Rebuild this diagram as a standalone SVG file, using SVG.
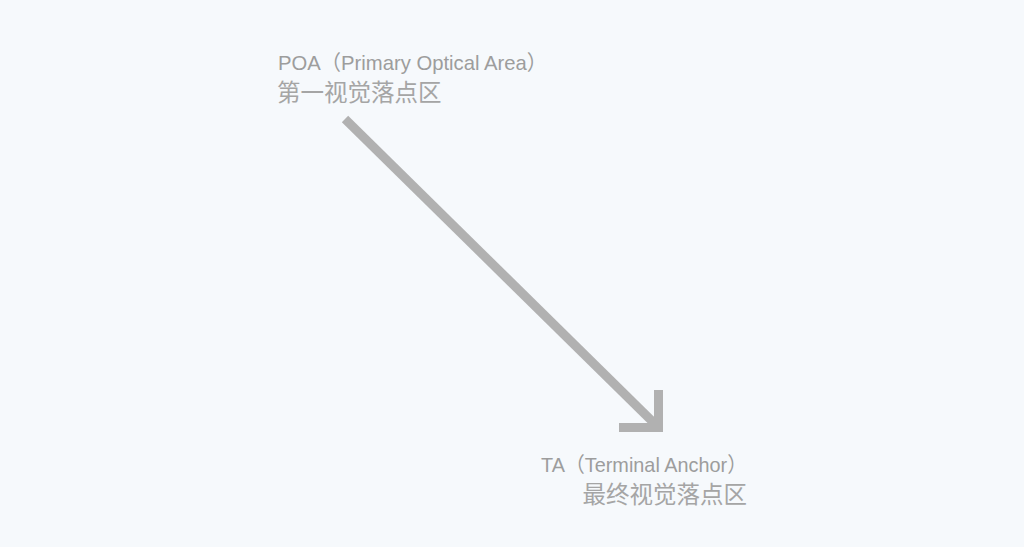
<svg xmlns="http://www.w3.org/2000/svg" width="1024" height="547" viewBox="0 0 1024 547">
<style>
.en{font-family:"Liberation Sans","Noto Sans CJK SC",sans-serif;font-size:21px;fill:#9d9d9d}
.zh{font-family:"Noto Sans CJK SC",sans-serif;font-size:23.5px;fill:#a5a5a5}
.arr{stroke:#b1b1b1;stroke-width:9;fill:none}
</style>
<rect width="1024" height="547" fill="#f6f9fc"/>
<g id="poa">
<text class="en" x="278" y="70" textLength="269" lengthAdjust="spacingAndGlyphs">POA（Primary Optical Area）</text>
<text class="zh" x="277" y="101">第一视觉落点区</text>
</g>
<g id="ta">
<text class="en" x="541" y="472" textLength="206" lengthAdjust="spacingAndGlyphs">TA（Terminal Anchor）</text>
<text class="zh" x="747" y="503" text-anchor="end">最终视觉落点区</text>
</g>
<g id="connectors">
<line class="arr" x1="345" y1="119" x2="657" y2="426"/>
<polyline class="arr" points="658.5,390 658.5,427.5 619,427.5"/>
</g>
</svg>
